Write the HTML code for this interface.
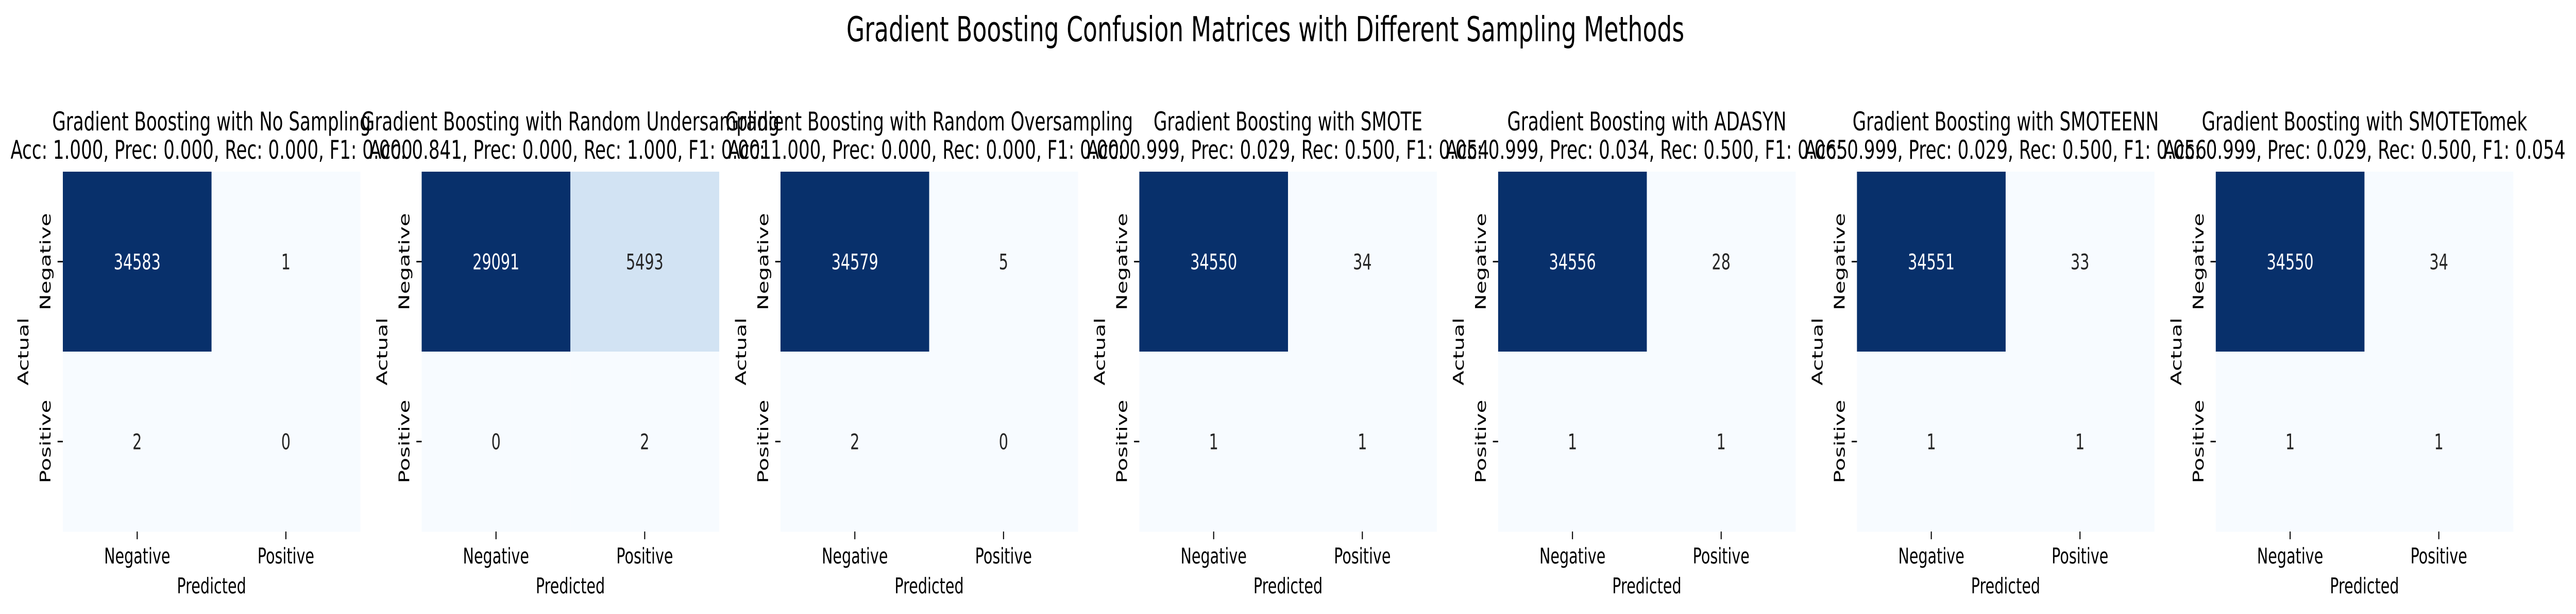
<!DOCTYPE html>
<html><head><meta charset="utf-8"><style>html,body{margin:0;padding:0;background:#fff;overflow:hidden}svg{display:block;width:100vw;height:100vh}text{font-family:"DejaVu Sans","Liberation Sans",sans-serif}</style></head>
<body>
<svg id="fig" viewBox="0 0 7337 1191" preserveAspectRatio="none" xmlns="http://www.w3.org/2000/svg">
<rect width="7337" height="1191" fill="#fff"/>
<text x="3604" y="80" font-size="67" text-anchor="middle">Gradient Boosting Confusion Matrices with Different Sampling Methods</text>
</svg>
<script>
const methods = ["No Sampling","Random Undersampling","Random Oversampling","SMOTE","ADASYN","SMOTEENN","SMOTETomek"];
const accs = ["1.000","0.841","1.000","0.999","0.999","0.999","0.999"];
const precs = ["0.000","0.000","0.000","0.029","0.034","0.029","0.029"];
const recs = ["0.000","1.000","0.000","0.500","0.500","0.500","0.500"];
const f1s = ["0.000","0.001","0.000","0.054","0.065","0.056","0.054"];
const tn = [34583,29091,34579,34550,34556,34551,34550];
const fp = [1,5493,5,34,28,33,34];
const fn = [2,0,2,1,1,1,1];
const tp = [0,2,0,1,1,1,1];
const classLabels = ["Negative","Positive"];

const NS="http://www.w3.org/2000/svg";
const svg=document.getElementById('fig');
const stops=["#f7fbff","#deebf7","#c6dbef","#9ecae1","#6baed6","#4292c6","#2171b5","#08519c","#08306b"];
function hex(h){return [1,3,5].map(i=>parseInt(h.substr(i,2),16));}
function blues(t){t=Math.max(0,Math.min(1,t));const p=t*8,i=Math.min(7,Math.floor(p)),f=p-i;const a=hex(stops[i]),b=hex(stops[i+1]);return a.map((v,k)=>Math.round(v+(b[k]-v)*f));}
function mk(tag,attrs,txt){const e=document.createElementNS(NS,tag);for(const k in attrs)e.setAttribute(k,attrs[k]);if(txt!==undefined)e.textContent=txt;svg.appendChild(e);return e;}
const L0=179,STEP=1022,W=847,TOP=333,H=698;
methods.forEach((m,p)=>{
  const left=L0+STEP*p,cx=left+W/2,cw=W/2,ch=H/2;
  const vals=[[tn[p],fp[p]],[fn[p],tp[p]]];
  const flat=[tn[p],fp[p],fn[p],tp[p]];
  const vmin=Math.min(...flat),vmax=Math.max(...flat);
  const t1=mk('text',{x:cx,y:253,'font-size':50,'text-anchor':'middle'},'Gradient Boosting with '+m);
  
  
  const t2=mk('text',{x:cx,y:308,'font-size':50,'text-anchor':'middle'},'Acc: '+accs[p]+', Prec: '+precs[p]+', Rec: '+recs[p]+', F1: '+f1s[p]);
  
  
  for(let r=0;r<2;r++)for(let c=0;c<2;c++){
    const v=vals[r][c];const col=blues(vmax>vmin?(v-vmin)/(vmax-vmin):0);
    const x=left+c*cw,y=TOP+r*ch;
    const rc=mk('rect',{x:x,y:y,width:cw+0.5,height:ch+0.5,fill:'rgb('+col.join(',')+')'});
    
    
    const lum=(0.299*col[0]+0.587*col[1]+0.114*col[2])/255;
    const tx=mk('text',{x:x+cw/2,y:y+ch/2+15,'font-size':42,'text-anchor':'middle',fill:lum<0.5?'#ffffff':'#262626'},String(v));
    
    
  }
  for(let i=0;i<2;i++){
    const xx=left+cw*(i+0.5);
    const tk=mk('line',{x1:xx,y1:TOP+H,x2:xx,y2:TOP+H+15,stroke:'#000','stroke-width':3});
    
    
    const xl=mk('text',{x:xx,y:1093,'font-size':42,'text-anchor':'middle'},classLabels[i]);
    
    
    const yy=TOP+ch*(i+0.5);
    const tk2=mk('line',{x1:left-15,y1:yy,x2:left,y2:yy,stroke:'#000','stroke-width':3});
    
    
    const yl=mk('text',{x:0,y:0,'font-size':42,'text-anchor':'middle',transform:'translate('+(left-35)+','+yy+') rotate(-90)'},classLabels[i]);
    
    
  }
  const xt=mk('text',{x:cx,y:1151,'font-size':42,'text-anchor':'middle'},'Predicted');
  
  
  const yt=mk('text',{x:0,y:0,'font-size':42,'text-anchor':'middle',transform:'translate('+(left-98)+','+(TOP+H/2)+') rotate(-90)'},'Actual');
  
  
});
</script>
</body></html>
